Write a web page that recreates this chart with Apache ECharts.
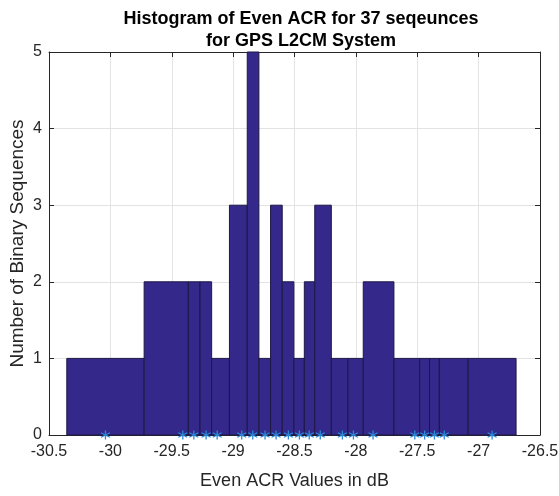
<!DOCTYPE html>
<html>
<head>
<meta charset="utf-8">
<script src="https://cdn.jsdelivr.net/npm/echarts@6/dist/echarts.min.js"></script>
<style>
  html, body { margin: 0; padding: 0; background: #fff; }
  #chart { width: 559px; height: 496px; }
</style>
</head>
<body>
<div id="chart"></div>
<script>
// unique ACR values (bin centres, dB) and how many sequences fall on each
var centers = [-30.04, -29.41, -29.32, -29.22, -29.13, -28.93, -28.84, -28.74, -28.65, -28.55,
               -28.46, -28.38, -28.29, -28.11, -28.02, -27.86, -27.52, -27.44, -27.36, -27.28, -26.89]
var counts = [1, 2, 2, 2, 1, 3, 5, 1, 3, 2, 1, 2, 3, 1, 1, 2, 1, 1, 1, 1, 1]
var xTicks = [-30.5, -30, -29.5, -29, -28.5, -28, -27.5, -27, -26.5]
var yTicks = [0, 1, 2, 3, 4, 5]

// hist() style bars: edges halfway between neighbouring centres
var bars = []
for (var i = 0; i < centers.length; i++) {
    var n = centers.length
    var left = i === 0 ? centers[0] - (centers[1] - centers[0]) / 2 : (centers[i - 1] + centers[i]) / 2
    var right = i === n - 1 ? centers[n - 1] + (centers[n - 1] - centers[n - 2]) / 2 : (centers[i] + centers[i + 1]) / 2
    bars.push([left, right, counts[i]])
}
var stars = centers.map(function (c) { return [c, 0] })

var font = '"Liberation Sans", Arial, sans-serif'
var axisColor = '#262626'

var chart = echarts.init(document.getElementById('chart'), null, { renderer: 'canvas' })

var baseX = {
    type: 'value', min: xTicks[0], max: xTicks[xTicks.length - 1], interval: 0.5,
    axisLine: { show: true, onZero: false, lineStyle: { color: axisColor, width: 1 } },
    axisTick: { show: true, inside: true, length: 5, lineStyle: { color: axisColor } },
    splitLine: { show: false }
}
var baseY = {
    type: 'value', min: yTicks[0], max: yTicks[yTicks.length - 1], interval: 1,
    axisLine: { show: true, onZero: false, lineStyle: { color: axisColor, width: 1 } },
    axisTick: { show: true, inside: true, length: 5, lineStyle: { color: axisColor } },
    splitLine: { show: false }
}

var option = {
    backgroundColor: '#fff',
    animation: false,
    title: {
        text: 'Histogram of Even ACR for 37 seqeunces\nfor GPS L2CM System',
        left: 296, top: 3, textAlign: 'center',
        textStyle: { fontFamily: font, fontSize: 18, fontWeight: 'bold', color: '#000', lineHeight: 22 }
    },
    grid: { left: 49, right: 19, top: 52, bottom: 61, outerBoundsMode: 'none', containLabel: false },
    xAxis: [
        Object.assign({}, baseX, {
            position: 'bottom',
            name: 'Even ACR Values in dB', nameLocation: 'middle', nameGap: 37,
            nameMoveOverlap: false,
            nameTextStyle: { fontFamily: font, fontSize: 18, color: '#262626' },
            axisLabel: {
                fontFamily: font, fontSize: 16, color: '#262626', margin: 9,
                formatter: function (v) { return String(v) }
            },
            splitLine: { show: true, lineStyle: { color: '#e3e3e3', width: 1 } }
        }),
        Object.assign({}, baseX, { position: 'top', axisLabel: { show: false } })
    ],
    yAxis: [
        Object.assign({}, baseY, {
            position: 'left',
            name: 'Number of Binary Sequences', nameLocation: 'middle', nameGap: 22,
            nameMoveOverlap: false,
            nameTextStyle: { fontFamily: font, fontSize: 19, color: '#262626' },
            axisLabel: { fontFamily: font, fontSize: 16, color: '#262626', margin: 7 },
            splitLine: { show: true, lineStyle: { color: '#e3e3e3', width: 1 } }
        }),
        Object.assign({}, baseY, { position: 'right', axisLabel: { show: false } })
    ],
    series: [
        {
            type: 'custom',
            xAxisIndex: 0, yAxisIndex: 0,
            data: bars,
            encode: { x: [0, 1], y: 2 },
            renderItem: function (params, api) {
                var p0 = api.coord([api.value(0), api.value(2)])
                var p1 = api.coord([api.value(1), 0])
                return {
                    type: 'rect',
                    shape: { x: p0[0], y: p0[1], width: p1[0] - p0[0], height: p1[1] - p0[1] },
                    style: { fill: '#34298a', stroke: '#1c1744', lineWidth: 1 }
                }
            }
        },
        {
            type: 'scatter',
            xAxisIndex: 0, yAxisIndex: 0,
            data: stars,
            clip: false,
            symbol: 'path://M0,-5L0,5M-4.33,-2.5L4.33,2.5M-4.33,2.5L4.33,-2.5',
            symbolSize: 9,
            itemStyle: { color: 'none', borderColor: '#2b87d8', borderWidth: 1.3, opacity: 1 },
            z: 5
        }
    ]
}

chart.setOption(option)
</script>
</body>
</html>
